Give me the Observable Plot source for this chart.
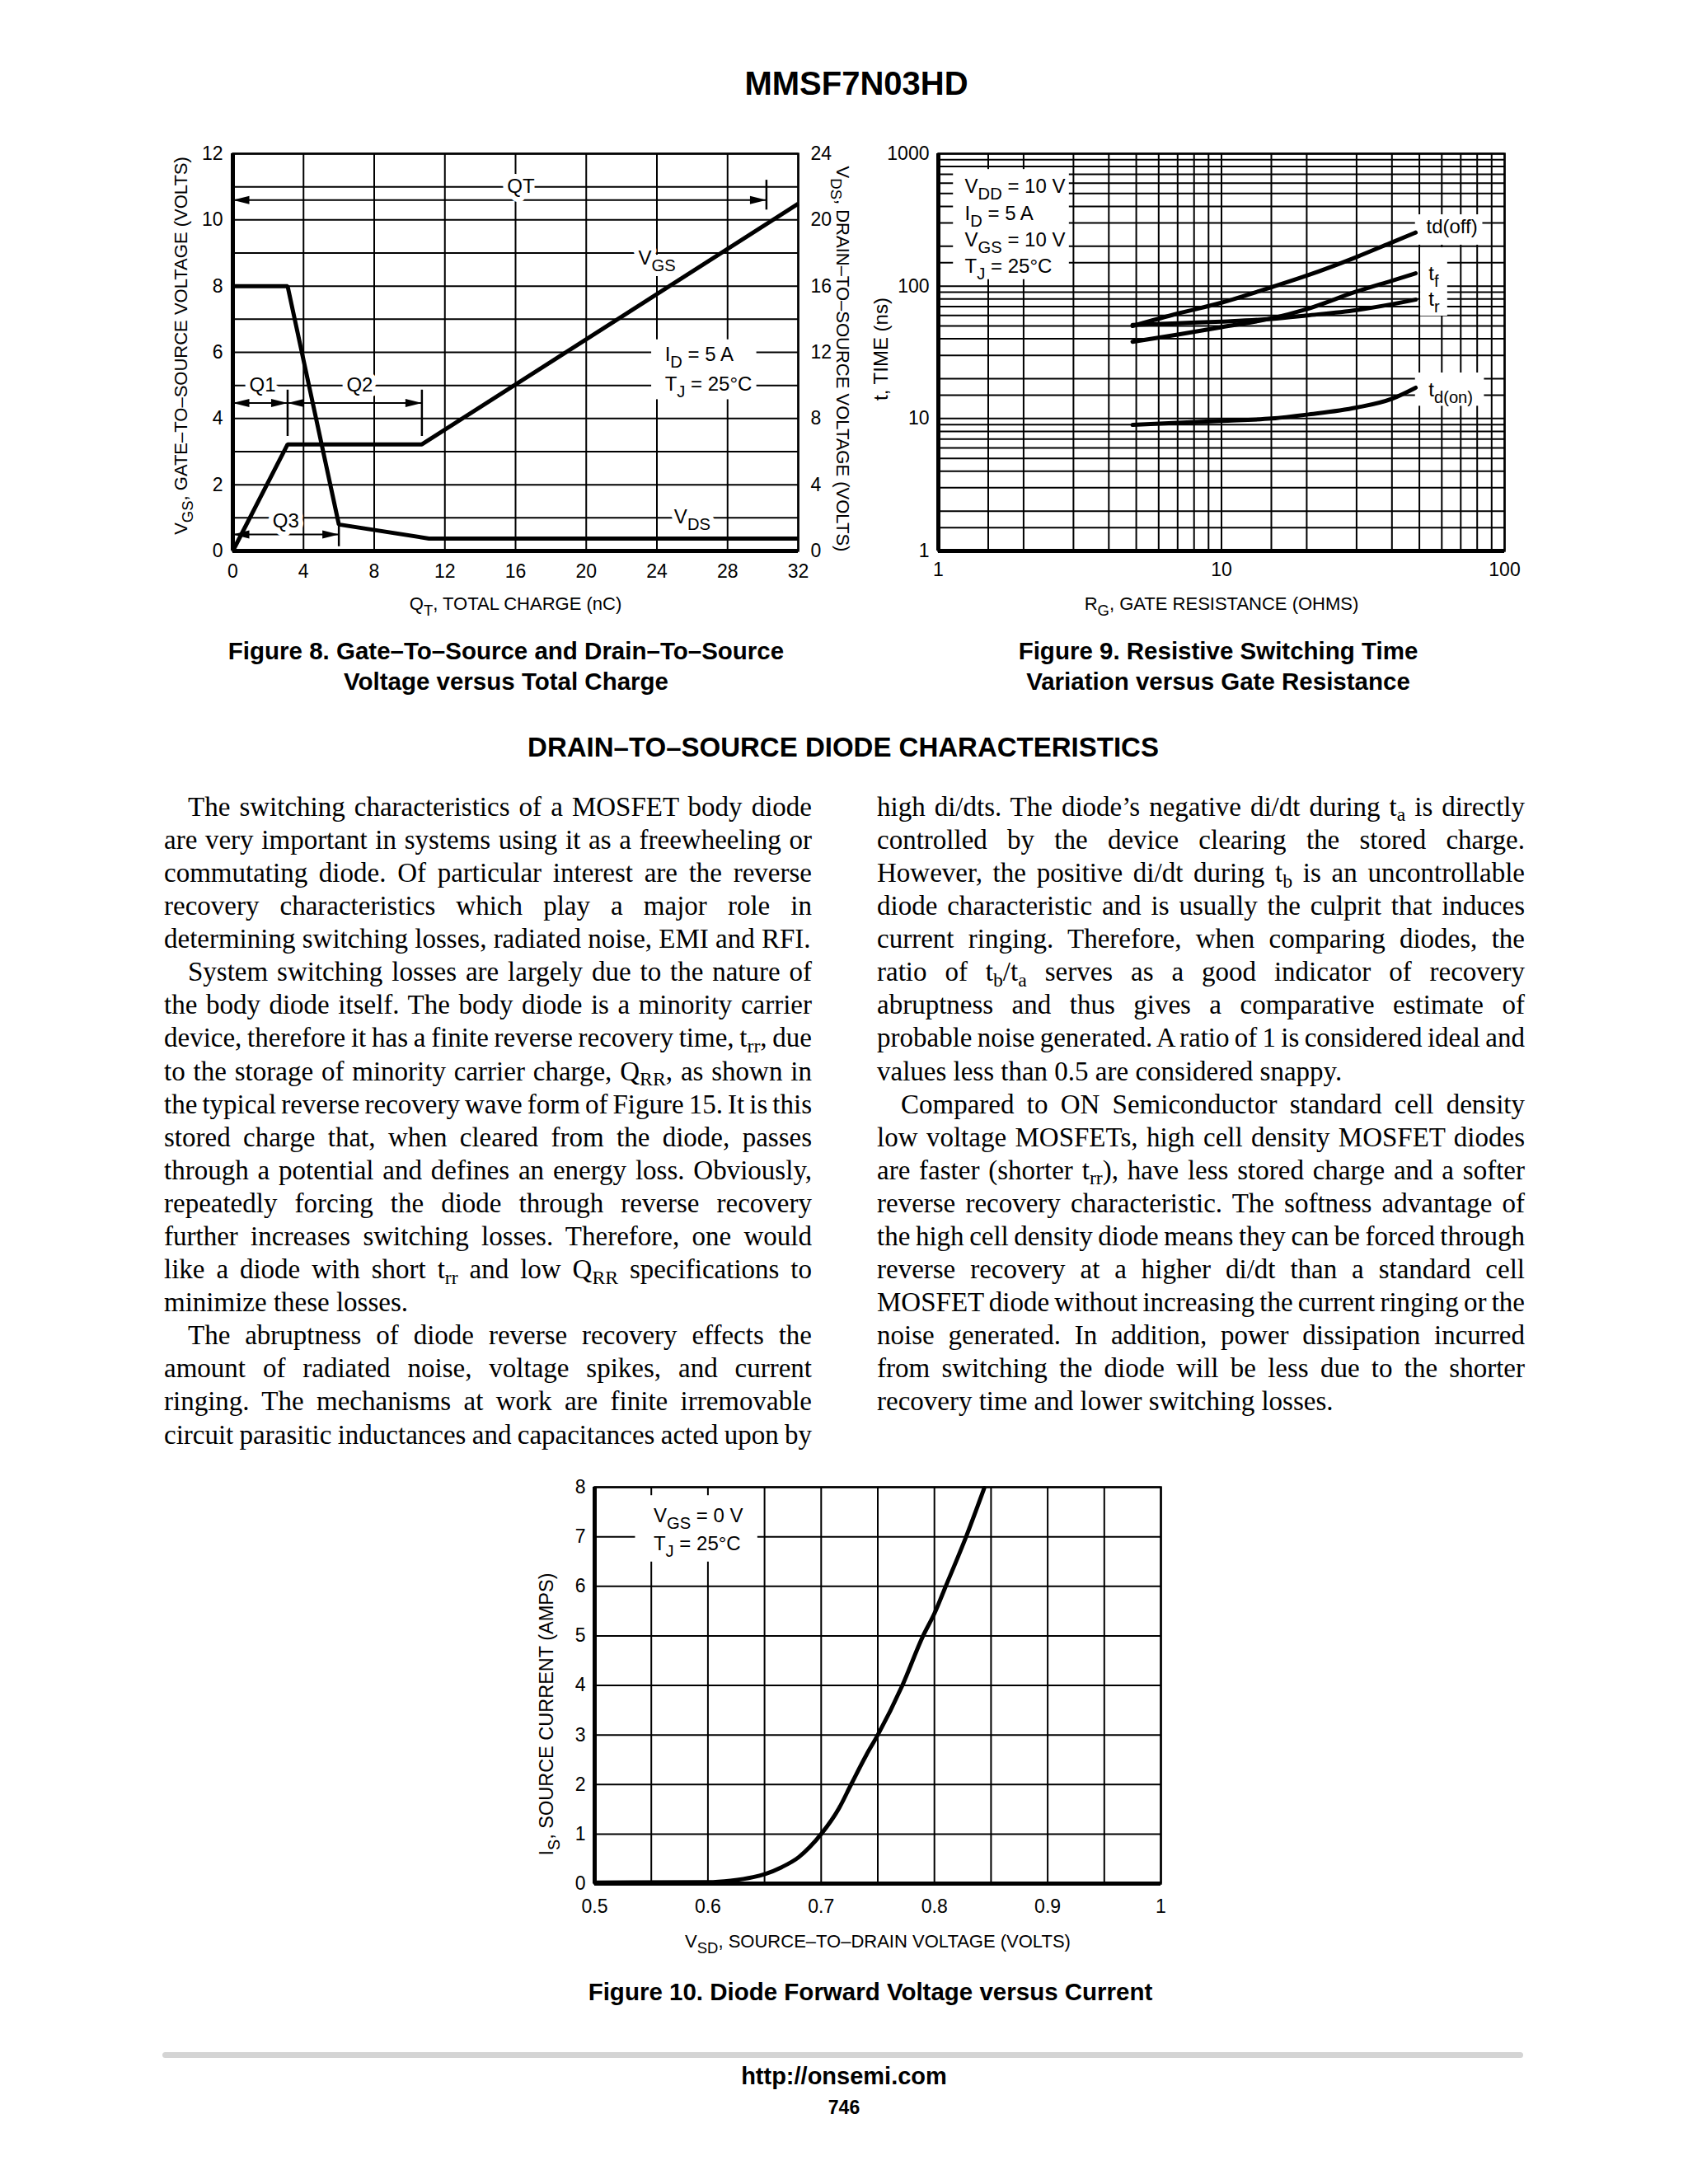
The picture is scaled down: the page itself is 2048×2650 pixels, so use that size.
<!DOCTYPE html>
<html><head><meta charset="utf-8">
<script src="https://cdn.jsdelivr.net/npm/d3@7"></script>
<script src="https://cdn.jsdelivr.net/npm/@observablehq/plot@0.6"></script>
<style>
html,body{margin:0;padding:0;background:#fff;}
#page{position:relative;width:2048px;height:2650px;overflow:hidden;background:#fff;color:#000;}
.hd{position:absolute;font-family:"Liberation Sans",Arial,Helvetica,sans-serif;font-weight:bold;text-align:center;white-space:nowrap;line-height:1;}
.col{position:absolute;font-family:"Liberation Serif","Times New Roman",serif;font-size:33px;line-height:40.1px;}
.col div{height:40.1px;white-space:nowrap;}
.s{font-size:0.72em;position:relative;top:0.28em;}
.fig{position:absolute;}
.rule{position:absolute;background:#d4d4d4;border-radius:4px;}
</style></head>
<body><div id="page"></div>
<script>
const FONT = '"Liberation Sans Narrow","Arial Narrow","Liberation Sans",Arial,sans-serif';

// ---------- Figure 8 data ----------
const qtTicks = [0, 4, 8, 12, 16, 20, 24, 28, 32];
const vgsTicks = [0, 2, 4, 6, 8, 10, 12];
const vgsGrid = [0, 1, 2, 3, 4, 5, 6, 7, 8, 9, 10, 11, 12];
const vdsTickLabels = [0, 4, 8, 12, 16, 20, 24];
const VDS_PER_VGS = 2;
const vgsQ = [0, 3.1, 10.7, 32];
const vgsV = [0, 3.22, 3.22, 10.49];
const vdsQ = [0, 3.1, 6.0, 11.1, 32];
const vdsV = [16, 16, 1.6, 0.75, 0.75];
const arrowNames = ["QT", "Q1", "Q2", "Q3"];
const arrowFrom = [0, 0, 3.1, 0];
const arrowTo = [30.2, 3.1, 10.7, 6.0];
const arrowAt = [10.6, 4.47, 4.47, 0.5];
const barQ = [30.2, 3.1, 10.7, 6.0];
const barLow = [10.3, 3.46, 3.46, 0.13];
const barHigh = [11.2, 4.86, 4.86, 0.8];
const lab8Text = ["QT", "Q1", "Q2", "Q3", "V_{GS}", "V_{DS}"];
const lab8Q = [16.3, 1.68, 7.18, 3.0, 24.0, 26.0];
const lab8V = [11.0, 5.0, 5.0, 0.9, 8.85, 1.02];
const cond8Text = ["I_{D} = 5 A", "T_{J} = 25°C"];
const cond8Q = [24.45, 24.45];
const cond8V = [5.92, 5.03];
const box8 = [{x1: 23.7, x2: 29.65, y1: 4.57, y2: 6.38}];

// ---------- Figure 9 data ----------
const rgTicks = [1, 10, 100];
const tTicks = [1, 10, 100, 1000];
const rgGrid = [1, 1.5, 2, 3, 4, 5, 6, 7, 8, 9, 10, 15, 20, 30, 40, 50, 60, 70, 80, 90, 100];
const tGrid = [1, 1.5, 2, 3, 4, 5, 6, 7, 8, 9, 10, 15, 20, 30, 40, 50, 60, 70, 80, 90,
               100, 150, 200, 300, 400, 500, 600, 700, 800, 900, 1000];
const rgValues = [4.85, 7, 10, 15, 20, 30, 40, 48.5];
const tdOff = [50, 62, 75, 98, 120, 166, 214, 254];
const tFall = [38, 43, 49, 57, 67, 91, 110, 125];
const tRise = [51, 52.5, 54, 56.5, 60, 66, 73, 79];
const tdOn = [8.95, 9.3, 9.6, 10.0, 10.7, 12.1, 14.1, 17.1];
const series9 = [["td(off)", tdOff], ["tf", tFall], ["tr", tRise], ["td(on)", tdOn]];
const cond9Text = ["V_{DD} = 10 V", "I_{D} = 5 A", "V_{GS} = 10 V", "T_{J} = 25°C"];
const cond9R = [1.24, 1.24, 1.24, 1.24];
const cond9T = [563, 351, 222, 140];
const lab9Text = ["td(off)", "t_{f}", "t_{r}", "t_{d(on)}"];
const lab9R = [52.9, 53.9, 53.9, 53.9];
const lab9T = [279, 123, 79, 16.3];
const box9 = [
  {x1: 1.13, x2: 2.9, y1: 112, y2: 760},
  {x1: 48.4, x2: 83.7, y1: 204, y2: 346},
  {x1: 50.5, x2: 62.9, y1: 59.4, y2: 195},
  {x1: 48.4, x2: 84.8, y1: 12.4, y2: 22.1}
];

// ---------- Figure 10 data ----------
const vsdTicks = [0.5, 0.6, 0.7, 0.8, 0.9, 1];
const vsdGrid = [0.5, 0.55, 0.6, 0.65, 0.7, 0.75, 0.8, 0.85, 0.9, 0.95, 1];
const isTicks = [0, 1, 2, 3, 4, 5, 6, 7, 8];
const vsdValues = [0.5, 0.6, 0.62, 0.64, 0.65, 0.665, 0.68, 0.69, 0.7, 0.716, 0.7264, 0.74, 0.75, 0.7717, 0.79, 0.8, 0.81, 0.828, 0.844];
const isValues = [0.02, 0.03, 0.06, 0.13, 0.19, 0.33, 0.53, 0.74, 1.0, 1.53, 2.0, 2.6, 3.0, 4.0, 5.0, 5.45, 6.0, 7.0, 7.98];
const cond10Text = ["V_{GS} = 0 V", "T_{J} = 25°C"];
const cond10V = [0.552, 0.552];
const cond10I = [7.42, 6.85];
const box10 = [{x1: 0.536, x2: 0.644, y1: 6.49, y2: 7.83}];

// ---------- text ----------
const pageTitle = "MMSF7N03HD";
const cap8 = ["Figure 8. Gate\u2013To\u2013Source and Drain\u2013To\u2013Source", "Voltage versus Total Charge"];
const cap9 = ["Figure 9. Resistive Switching Time", "Variation versus Gate Resistance"];
const cap10 = "Figure 10. Diode Forward Voltage versus Current";
const sectionHead = "DRAIN\u2013TO\u2013SOURCE DIODE CHARACTERISTICS";
const footUrl = "http://onsemi.com";
const footPage = "746";

const leftCol = [
  ["ind", "The switching characteristics of a MOSFET body diode"],
  ["", "are very important in systems using it as a freewheeling or"],
  ["", "commutating diode. Of particular interest are the reverse"],
  ["", "recovery characteristics which play a major role in"],
  ["end", "determining switching losses, radiated noise, EMI and RFI."],
  ["ind", "System switching losses are largely due to the nature of"],
  ["", "the body diode itself. The body diode is a minority carrier"],
  ["", "device, therefore it has a finite reverse recovery time, t_{rr}, due"],
  ["", "to the storage of minority carrier charge, Q_{RR}, as shown in"],
  ["", "the typical reverse recovery wave form of Figure 15. It is this"],
  ["", "stored charge that, when cleared from the diode, passes"],
  ["", "through a potential and defines an energy loss. Obviously,"],
  ["", "repeatedly forcing the diode through reverse recovery"],
  ["", "further increases switching losses. Therefore, one would"],
  ["", "like a diode with short t_{rr} and low Q_{RR} specifications to"],
  ["end", "minimize these losses."],
  ["ind", "The abruptness of diode reverse recovery effects the"],
  ["", "amount of radiated noise, voltage spikes, and current"],
  ["", "ringing. The mechanisms at work are finite irremovable"],
  ["", "circuit parasitic inductances and capacitances acted upon by"]
];
const rightCol = [
  ["", "high di/dts. The diode\u2019s negative di/dt during t_{a} is directly"],
  ["", "controlled by the device clearing the stored charge."],
  ["", "However, the positive di/dt during t_{b} is an uncontrollable"],
  ["", "diode characteristic and is usually the culprit that induces"],
  ["", "current ringing. Therefore, when comparing diodes, the"],
  ["", "ratio of t_{b}/t_{a} serves as a good indicator of recovery"],
  ["", "abruptness and thus gives a comparative estimate of"],
  ["", "probable noise generated. A ratio of 1 is considered ideal and"],
  ["end", "values less than 0.5 are considered snappy."],
  ["ind", "Compared to ON Semiconductor standard cell density"],
  ["", "low voltage MOSFETs, high cell density MOSFET diodes"],
  ["", "are faster (shorter t_{rr}), have less stored charge and a softer"],
  ["", "reverse recovery characteristic. The softness advantage of"],
  ["", "the high cell density diode means they can be forced through"],
  ["", "reverse recovery at a higher di/dt than a standard cell"],
  ["", "MOSFET diode without increasing the current ringing or the"],
  ["", "noise generated. In addition, power dissipation incurred"],
  ["", "from switching the diode will be less due to the shorter"],
  ["end", "recovery time and lower switching losses."]
];

// ---------- helpers ----------
const page = document.getElementById("page");
const NS = "http://www.w3.org/2000/svg";

function subify(svg) {
  svg.querySelectorAll("text").forEach(el => {
    const targets = el.querySelector("tspan") ? Array.from(el.querySelectorAll("tspan")) : [el];
    targets.forEach(node => {
      const s = node.textContent;
      if (!s.includes("_{")) return;
      const fs = parseFloat(getComputedStyle(node).fontSize) || 22;
      node.textContent = "";
      s.split(/(_\{[^}]*\})/).forEach(p => {
        if (!p) return;
        const t = document.createElementNS(NS, "tspan");
        if (p.startsWith("_{")) {
          t.textContent = p.slice(2, -1);
          t.setAttribute("font-size", (fs * 0.84) + "px");
          t.setAttribute("baseline-shift", (-fs * 0.32) + "px");
        } else t.textContent = p;
        node.appendChild(t);
      });
    });
  });
}

function addFig(plot, left, top) {
  const d = document.createElement("div");
  d.className = "fig";
  d.style.left = left + "px";
  d.style.top = top + "px";
  d.appendChild(plot);
  page.appendChild(d);
  subify(plot);
}

function addHd(text, cx, baseline, fs) {
  const d = document.createElement("div");
  d.className = "hd";
  d.style.fontSize = fs + "px";
  d.style.left = (cx - 600) + "px";
  d.style.width = "1200px";
  d.style.top = (baseline - 0.8465 * fs) + "px";
  d.textContent = text;
  page.appendChild(d);
}

function fmt(s) {
  return s.replace(/_\{([^}]*)\}/g, '<span class="s">$1</span>');
}

function addCol(lines, left, width) {
  const col = document.createElement("div");
  col.className = "col";
  col.style.left = left + "px";
  col.style.top = (990 - 31.2) + "px";
  col.style.width = width + "px";
  page.appendChild(col);
  lines.forEach(([kind, txt]) => {
    const d = document.createElement("div");
    const indent = kind === "ind" ? 29 : 0;
    d.style.paddingLeft = indent + "px";
    const sp = document.createElement("span");
    sp.innerHTML = fmt(txt);
    d.appendChild(sp);
    col.appendChild(d);
    if (kind !== "end") {
      const nat = sp.getBoundingClientRect().width;
      const spaces = (sp.textContent.match(/ /g) || []).length;
      if (spaces) sp.style.wordSpacing = ((width - indent - nat) / spaces) + "px";
    }
  });
}

const headRight = {draw(ctx) { ctx.moveTo(0, 0); ctx.lineTo(-20, -5); ctx.lineTo(-20, 5); ctx.closePath(); }};
const headLeft = {draw(ctx) { ctx.moveTo(0, 0); ctx.lineTo(20, -5); ctx.lineTo(20, 5); ctx.closePath(); }};
const TITLE = {fontSize: 22, fill: "black", textAnchor: "middle", lineAnchor: "middle"};

// ---------- Figure 8 ----------
const vgsData = vgsQ.map((q, i) => ({q, v: vgsV[i]}));
const vdsData = vdsQ.map((q, i) => ({q, v: vdsV[i]}));
const arrows = arrowNames.map((n, i) => ({n, x1: arrowFrom[i], x2: arrowTo[i], y: arrowAt[i]}));
const bars = barQ.map((x, i) => ({x, y1: barLow[i], y2: barHigh[i]}));
const lab8 = lab8Text.map((t, i) => ({t, x: lab8Q[i], y: lab8V[i]}));
const cond8 = cond8Text.map((t, i) => ({t, x: cond8Q[i], y: cond8V[i]}));

const fig8 = Plot.plot({
  width: 900, height: 620,
  marginLeft: 100, marginRight: 114, marginTop: 36, marginBottom: 102,
  style: {fontFamily: FONT, fontSize: "23px", color: "black", background: "transparent", overflow: "visible"},
  x: {domain: [0, 32]},
  y: {domain: [0, 12]},
  marks: [
    Plot.ruleX(qtTicks, {stroke: "black", strokeWidth: 2}),
    Plot.ruleY(vgsGrid, {stroke: "black", strokeWidth: 2}),
    Plot.rect(box8, {x1: "x1", x2: "x2", y1: "y1", y2: "y2", fill: "white"}),
    Plot.frame({stroke: "black", strokeWidth: 2.5}),
    Plot.ruleX([0], {stroke: "black", strokeWidth: 5}),
    Plot.ruleY([0], {stroke: "black", strokeWidth: 5}),
    Plot.axisX({ticks: qtTicks, tickSize: 0, tickPadding: 16, label: null, tickFormat: d => String(d)}),
    Plot.axisY({ticks: vgsTicks, tickSize: 0, tickPadding: 12, label: null, tickFormat: d => String(d)}),
    Plot.axisY({anchor: "right", ticks: vdsTickLabels.map(v => v / VDS_PER_VGS), tickSize: 0, tickPadding: 15, label: null,
      tickFormat: d => String(d * VDS_PER_VGS)}),
    Plot.line(vgsData, {x: "q", y: "v", stroke: "black", strokeWidth: 5, strokeLinejoin: "miter", strokeLinecap: "butt"}),
    Plot.line(vdsData, {x: "q", y: d => d.v / VDS_PER_VGS, stroke: "black", strokeWidth: 5, strokeLinejoin: "miter", strokeLinecap: "butt"}),
    Plot.ruleY(arrows, {x1: "x1", x2: "x2", y: "y", stroke: "black", strokeWidth: 2}),
    Plot.ruleX(bars, {x: "x", y1: "y1", y2: "y2", stroke: "black", strokeWidth: 2.5}),
    Plot.dot(arrows, {x: "x2", y: "y", symbol: headRight, fill: "black", stroke: "none"}),
    Plot.dot(arrows, {x: "x1", y: "y", symbol: headLeft, fill: "black", stroke: "none"}),
    Plot.text(lab8, {x: "x", y: "y", text: "t", fontSize: 24, fill: "black", stroke: "white", strokeWidth: 12, paintOrder: "stroke"}),
    Plot.text(cond8, {x: "x", y: "y", text: "t", fontSize: 24, fill: "black", textAnchor: "start"}),
    Plot.text(["V_{GS}, GATE\u2013TO\u2013SOURCE VOLTAGE (VOLTS)"], {...TITLE, text: d => d, frameAnchor: "left", rotate: -90, dx: -63, dy: -8}),
    Plot.text(["V_{DS}, DRAIN\u2013TO\u2013SOURCE VOLTAGE (VOLTS)"], {...TITLE, text: d => d, frameAnchor: "right", rotate: 90, dx: 54, dy: 8}),
    Plot.text(["Q_{T}, TOTAL CHARGE (nC)"], {...TITLE, text: d => d, frameAnchor: "bottom", dy: 64})
  ]
});

// ---------- Figure 9 ----------
const data9 = series9.flatMap(([name, vals]) => vals.map((t, i) => ({name, rg: rgValues[i], t})));
const cond9 = cond9Text.map((t, i) => ({t, x: cond9R[i], y: cond9T[i]}));
const lab9 = lab9Text.map((t, i) => ({t, x: lab9R[i], y: lab9T[i]}));

const fig9 = Plot.plot({
  width: 850, height: 620,
  marginLeft: 98, marginRight: 65, marginTop: 36, marginBottom: 102,
  style: {fontFamily: FONT, fontSize: "23px", color: "black", background: "transparent", overflow: "visible"},
  x: {type: "log", domain: [1, 100]},
  y: {type: "log", domain: [1, 1000]},
  marks: [
    Plot.ruleX(rgGrid, {stroke: "black", strokeWidth: 2}),
    Plot.ruleY(tGrid, {stroke: "black", strokeWidth: 2}),
    Plot.rect(box9, {x1: "x1", x2: "x2", y1: "y1", y2: "y2", fill: "white"}),
    Plot.frame({stroke: "black", strokeWidth: 2.5}),
    Plot.ruleX([1], {stroke: "black", strokeWidth: 5}),
    Plot.ruleY([1], {stroke: "black", strokeWidth: 5}),
    Plot.axisX({ticks: rgTicks, tickSize: 0, tickPadding: 14, label: null, tickFormat: d => String(d)}),
    Plot.axisY({ticks: tTicks, tickSize: 0, tickPadding: 11, label: null, tickFormat: d => String(d)}),
    Plot.line(data9, {x: "rg", y: "t", z: "name", curve: "monotone-x", stroke: "black", strokeWidth: 5}),
    Plot.text(cond9, {x: "x", y: "y", text: "t", fontSize: 24, fill: "black", textAnchor: "start"}),
    Plot.text(lab9, {x: "x", y: "y", text: "t", fontSize: 24, fill: "black", textAnchor: "start"}),
    Plot.text(["t, TIME (ns)"], {...TITLE, fontSize: 24, text: d => d, frameAnchor: "left", rotate: -90, dx: -69, dy: -4}),
    Plot.text(["R_{G}, GATE RESISTANCE (OHMS)"], {...TITLE, text: d => d, frameAnchor: "bottom", dy: 64})
  ]
});

// ---------- Figure 10 ----------
const data10 = vsdValues.map((v, i) => ({v, i: isValues[i]}));
const cond10 = cond10Text.map((t, i) => ({t, x: cond10V[i], y: cond10I[i]}));

const fig10 = Plot.plot({
  width: 850, height: 640,
  marginLeft: 101, marginRight: 62, marginTop: 34, marginBottom: 125,
  style: {fontFamily: FONT, fontSize: "23px", color: "black", background: "transparent", overflow: "visible"},
  x: {domain: [0.5, 1]},
  y: {domain: [0, 8]},
  marks: [
    Plot.ruleX(vsdGrid, {stroke: "black", strokeWidth: 2}),
    Plot.ruleY(isTicks, {stroke: "black", strokeWidth: 2}),
    Plot.rect(box10, {x1: "x1", x2: "x2", y1: "y1", y2: "y2", fill: "white"}),
    Plot.frame({stroke: "black", strokeWidth: 2.5}),
    Plot.ruleX([0.5], {stroke: "black", strokeWidth: 5}),
    Plot.ruleY([0], {stroke: "black", strokeWidth: 5}),
    Plot.axisX({ticks: vsdTicks, tickSize: 0, tickPadding: 19, label: null, tickFormat: d => String(d)}),
    Plot.axisY({ticks: isTicks, tickSize: 0, tickPadding: 11, label: null, tickFormat: d => String(d)}),
    Plot.line(data10, {x: "v", y: "i", curve: "monotone-x", stroke: "black", strokeWidth: 5}),
    Plot.text(cond10, {x: "x", y: "y", text: "t", fontSize: 24, fill: "black", textAnchor: "start"}),
    Plot.text(["I_{S}, SOURCE CURRENT (AMPS)"], {...TITLE, fontSize: 23.5, text: d => d, frameAnchor: "left", rotate: -90, dx: -58, dy: 35}),
    Plot.text(["V_{SD}, SOURCE\u2013TO\u2013DRAIN VOLTAGE (VOLTS)"], {...TITLE, text: d => d, frameAnchor: "bottom", dy: 70})
  ]
});

// ---------- page assembly ----------
addHd(pageTitle, 1039, 115, 40);
addFig(fig8, 182, 150);
addFig(fig9, 1040, 150);
addHd(cap8[0], 614, 800, 29.5);
addHd(cap8[1], 614, 837, 29.5);
addHd(cap9[0], 1478, 800, 29.5);
addHd(cap9[1], 1478, 837, 29.5);
addHd(sectionHead, 1023, 918, 33);
addCol(leftCol, 199, 786);
addCol(rightCol, 1064, 786);
addFig(fig10, 620, 1770);
addHd(cap10, 1056, 2427, 29.5);
const rule = document.createElement("div");
rule.className = "rule";
Object.assign(rule.style, {left: "197px", top: "2490px", width: "1651px", height: "7px"});
page.appendChild(rule);
addHd(footUrl, 1024, 2530, 29);
addHd(footPage, 1024, 2565, 23);
</script>
</body></html>
